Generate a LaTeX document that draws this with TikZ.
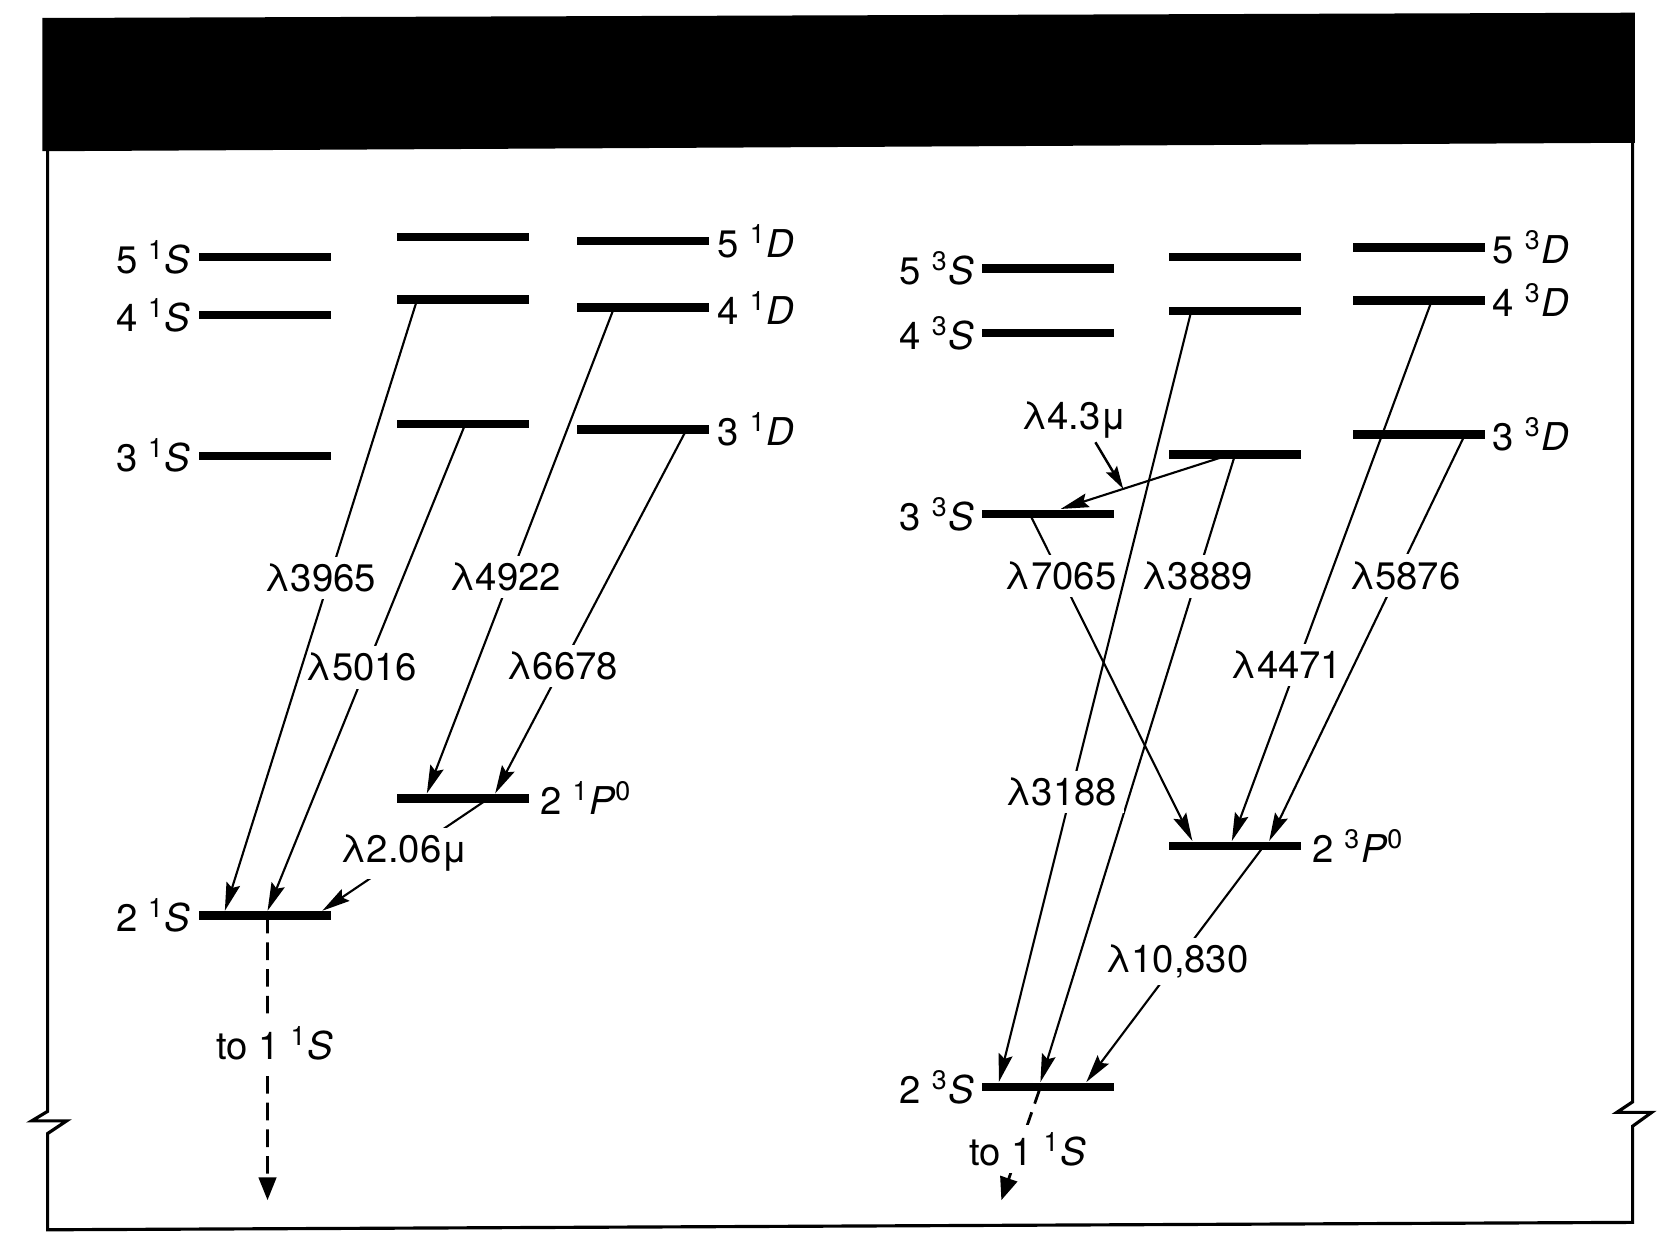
\documentclass[tikz,border=0pt]{standalone}
\usepackage{fontspec}
\setmainfont{TeX Gyre Heros}
\usepackage{tikz}
\usetikzlibrary{positioning,arrows.meta,calc}
\newcommand{\lblfont}{\fontsize{10.9}{13}\selectfont}
\newcommand{\lvlname}[3]{#1 \textsuperscript{#2}\textit{#3}}
\tikzset{
  lev/.style={rectangle, fill=black, inner sep=0pt, minimum width=1.32cm, minimum height=0.085cm},
  lvl/.style={inner sep=2pt, font=\lblfont},
  tr/.style={draw=black, line width=0.6pt, -{Stealth[length=8pt,width=4pt,inset=1.2pt]}},
  ptr/.style={draw=black, line width=0.7pt, -{Stealth[length=6.5pt,width=3.6pt,inset=1pt]}},
  wl/.style={fill=white, inner sep=2pt, font=\lblfont},
  gnd/.style={draw=black, line width=0.8pt, dash pattern=on 5pt off 2.6pt, -{Triangle[length=6.5pt,width=5pt]}},
  frm/.style={line width=0.9pt, line join=miter}
}

\begin{document}
\begin{tikzpicture}[x=0.010574cm, y=-0.010574cm, font=\lblfont]
  \useasboundingbox (0,0) rectangle (1568,1180);

  % Header band and frame with breaks
  \fill (40,17) -- (1546,12) -- (1546,135) -- (40,143) -- cycle;
  \draw[frm] (45,143) -- (45,1051) -- (30,1060) -- (63,1060) -- (45,1072) -- (45,1163)
    -- (1544,1156) -- (1544,1065) -- (1562,1052) -- (1529,1052) -- (1544,1042) -- (1544,135);

  % Singlet levels: S, P and D columns
  \node[lev] (s5) at (250.5,243) {};
  \node[lev] (s4) at (250.5,298) {};
  \node[lev] (s3) at (250.5,431) {};
  \node[lev] (s2) at (250.5,866) {};
  \node[lev] (p5) at (437.5,224) {};
  \node[lev] (p4) at (437.5,283) {};
  \node[lev] (p3) at (437.5,401) {};
  \node[lev] (p2) at (437.5,755) {};
  \node[lev] (d5) at (608.5,228) {};
  \node[lev] (d4) at (608.5,291) {};
  \node[lev] (d3) at (608.5,406) {};

  % Singlet level names
  \node[lvl, left=0pt of s5] {\lvlname{5}{1}{S}};
  \node[lvl, left=0pt of s4] {\lvlname{4}{1}{S}};
  \node[lvl, left=0pt of s3] {\lvlname{3}{1}{S}};
  \node[lvl, left=0pt of s2] {\lvlname{2}{1}{S}};
  \node[lvl, right=1pt of p2] {\lvlname{2}{1}{P}\textsuperscript{0}};
  \node[lvl, right=0pt of d5] {\lvlname{5}{1}{D}};
  \node[lvl, right=0pt of d4] {\lvlname{4}{1}{D}};
  \node[lvl, right=0pt of d3] {\lvlname{3}{1}{D}};

  % Triplet levels
  \node[lev] (ts5) at (991.5,254) {};
  \node[lev] (ts4) at (991.5,315) {};
  \node[lev] (ts3) at (991.5,486) {};
  \node[lev] (ts2) at (991.5,1028) {};
  \node[lev] (tp5) at (1167.5,243) {};
  \node[lev] (tp4) at (1167.5,294) {};
  \node[lev] (tp3) at (1167.5,430) {};
  \node[lev] (tp2) at (1167.5,800) {};
  \node[lev] (td5) at (1341.5,234) {};
  \node[lev] (td4) at (1341.5,284) {};
  \node[lev] (td3) at (1341.5,411) {};

  % Triplet level names
  \node[lvl, left=0pt of ts5] {\lvlname{5}{3}{S}};
  \node[lvl, left=0pt of ts4] {\lvlname{4}{3}{S}};
  \node[lvl, left=0pt of ts3] {\lvlname{3}{3}{S}};
  \node[lvl, left=0pt of ts2] {\lvlname{2}{3}{S}};
  \node[lvl, right=1pt of tp2] {\lvlname{2}{3}{P}\textsuperscript{0}};
  \node[lvl, right=0pt of td5] {\lvlname{5}{3}{D}};
  \node[lvl, right=0pt of td4] {\lvlname{4}{3}{D}};
  \node[lvl, right=0pt of td3] {\lvlname{3}{3}{D}};

  % Singlet transitions
  \draw[tr] ($(p3.west)!.52!(p3.east)$) -- node[wl, pos=.5, xshift=-1.4pt] {λ5016} ($(s2.north west)!.52!(s2.north east)$);
  \draw[tr] ($(p4.west)!.16!(p4.east)$) -- node[wl, pos=.456, xshift=-2.6pt] {λ3965} ($(s2.north west)!.2!(s2.north east)$);
  \draw[tr] ($(d4.west)!.28!(d4.east)$) -- node[wl, pos=.554, xshift=-1.4pt] {λ4922} ($(p2.north west)!.232!(p2.north east)$);
  \draw[tr] ($(d3.west)!.824!(d3.east)$) -- node[wl, pos=.65] {λ6678} ($(p2.north west)!.744!(p2.north east)$);
  \draw[tr] ($(p2.west)!.696!(p2.east)$) -- node[wl, pos=.49, xshift=-0.8pt] {λ2.06μ} ($(s2.north west)!.93!(s2.north east)$);

  % Triplet transitions
  \draw[tr] ($(tp3.west)!.464!(tp3.east)$) -- coordinate[pos=.63] (h43) ($(ts3.north west)!.592!(ts3.north east)$);
  \node[inner sep=1pt] (l43) at (1016,397) {λ4.3μ};
  \draw[ptr] ([xshift=6pt]l43.south) -- (h43);
  \draw[tr] ($(ts3.west)!.36!(ts3.east)$) -- node[wl, pos=.19] {λ7065} ($(tp2.north west)!.184!(tp2.north east)$);
  \draw[tr] ($(tp3.west)!.504!(tp3.east)$) -- node[wl, pos=.194] {λ3889} ($(ts2.north west)!.44!(ts2.north east)$);
  \draw[tr] ($(tp4.west)!.176!(tp4.east)$) -- node[wl, pos=.624, xshift=-2.8pt] {λ3188} ($(ts2.north west)!.128!(ts2.north east)$);
  \draw[tr] ($(td4.west)!.6!(td4.east)$) -- node[wl, pos=.674, xshift=-3pt] {λ4471} ($(tp2.north west)!.48!(tp2.north east)$);
  \draw[tr] ($(td3.west)!.848!(td3.east)$) -- node[wl, pos=.347, xshift=2.2pt] {λ5876} ($(tp2.north west)!.76!(tp2.north east)$);
  \draw[tr] ($(tp2.west)!.72!(tp2.east)$) -- node[wl, pos=.49] {λ10,830} ($(ts2.north west)!.784!(ts2.north east)$);

  % Decay to the ground state
  \coordinate (gl) at (253,1135);
  \coordinate (gr) at (947,1135);
  \draw[gnd] ($(s2.west)!.52!(s2.east)$) -- node[wl, pos=.45, xshift=2pt] {to \lvlname{1}{1}{S}} (gl);
  \draw[gnd] ($(ts2.west)!.44!(ts2.east)$) -- node[wl, pos=.55, xshift=2.5pt] {to \lvlname{1}{1}{S}} (gr);
\end{tikzpicture}
\end{document}
